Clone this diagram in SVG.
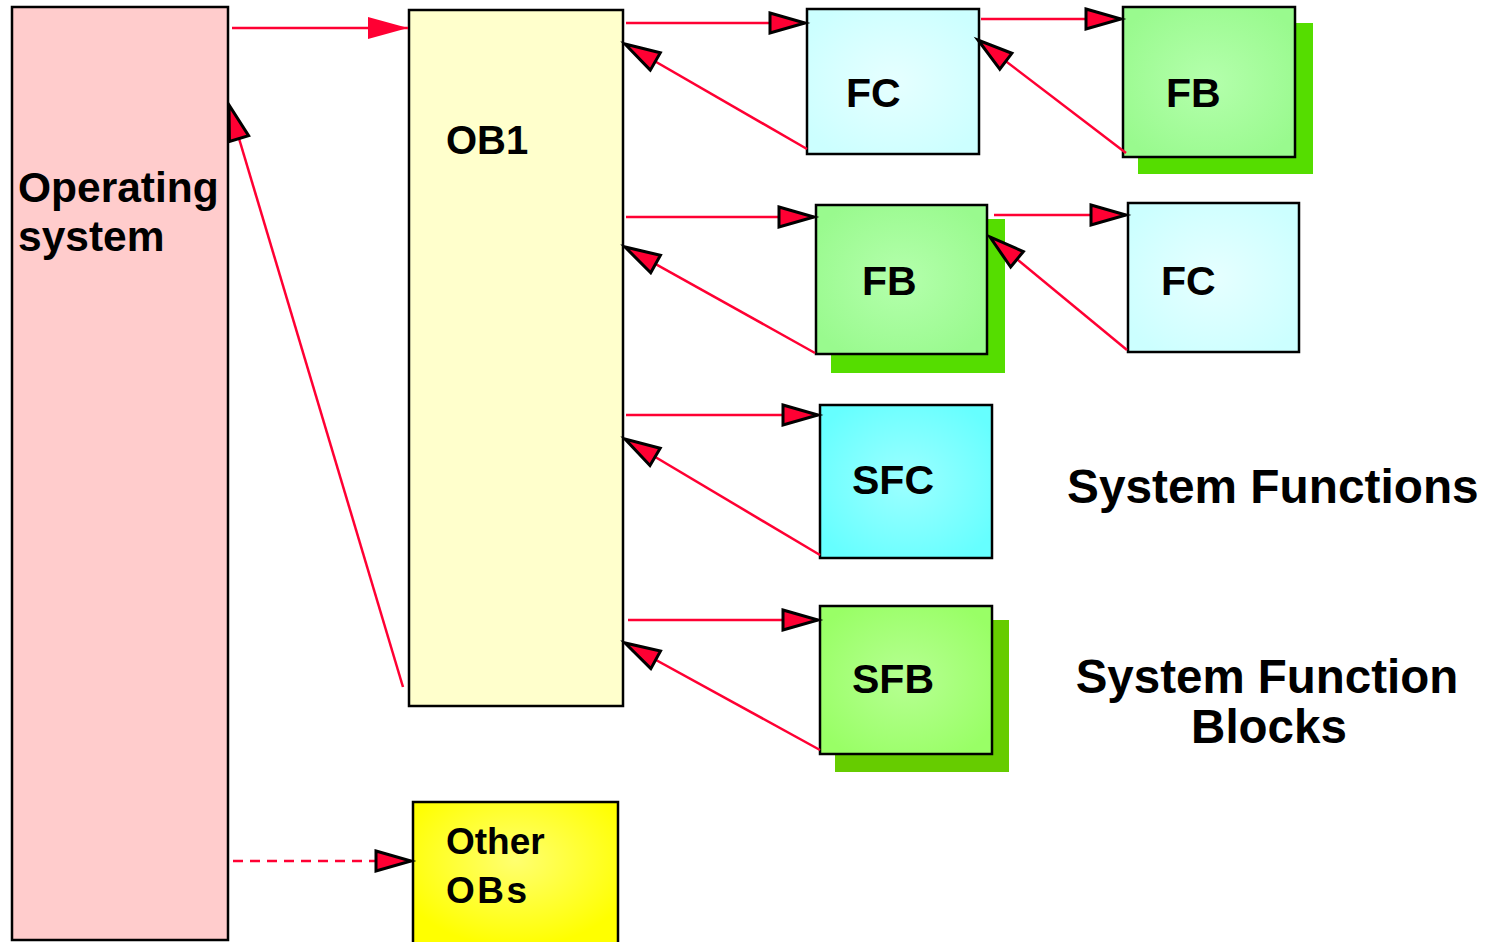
<svg xmlns="http://www.w3.org/2000/svg" width="1496" height="942" viewBox="0 0 1496 942">
<style>
.box{stroke:#000;stroke-width:2.5}
.lbl{font-family:"Liberation Sans",Arial,sans-serif;font-weight:bold;fill:#000}
.con{stroke:#ff0033;stroke-width:2.5;fill:none}
</style>
<defs>
<radialGradient id="gFC" cx="0.5" cy="0.5" r="0.6"><stop offset="0" stop-color="#e6ffff"/><stop offset="1" stop-color="#ccffff"/></radialGradient>
<radialGradient id="gFB" cx="0.5" cy="0.5" r="0.6"><stop offset="0" stop-color="#b4ffac"/><stop offset="1" stop-color="#99fa8e"/></radialGradient>
<radialGradient id="gSFC" cx="0.5" cy="0.5" r="0.6"><stop offset="0" stop-color="#9cffff"/><stop offset="1" stop-color="#66ffff"/></radialGradient>
<radialGradient id="gSFB" cx="0.5" cy="0.5" r="0.6"><stop offset="0" stop-color="#b6ff92"/><stop offset="1" stop-color="#99ff66"/></radialGradient>
<radialGradient id="gOB" cx="0.5" cy="0.4" r="0.6"><stop offset="0" stop-color="#ffff70"/><stop offset="1" stop-color="#ffff00"/></radialGradient>
<marker id="ah" markerUnits="userSpaceOnUse" markerWidth="46" markerHeight="30" viewBox="-5 -5 46 30" refX="35" refY="10" orient="auto">
<path d="M0,0 L35,10 L0,20 Z" fill="#ff0033" stroke="#000" stroke-width="3" stroke-linejoin="miter"/>
</marker>
<marker id="ahPlain" markerUnits="userSpaceOnUse" markerWidth="40" markerHeight="24" viewBox="0 0 36 20" refX="36" refY="10" orient="auto">
<path d="M0,0 L36,10 L0,20 Z" fill="#ff0033"/>
</marker>
</defs>

<g id="ob1">
<rect class="box" x="409" y="10" width="214" height="696" fill="#ffffcc"/>
<text class="lbl" font-size="40" x="446" y="154">OB1</text>
</g>

<g id="fc1">
<rect class="box" x="807" y="9" width="172" height="145" fill="url(#gFC)"/>
<text class="lbl" font-size="41" x="846" y="107">FC</text>
</g>

<g id="fb1">
<rect x="1138" y="23" width="175" height="151" fill="#55dd00"/>
<rect class="box" x="1123" y="7" width="172" height="150" fill="url(#gFB)"/>
<text class="lbl" font-size="41" x="1166" y="107">FB</text>
</g>

<g id="fb2">
<rect x="831" y="219" width="174" height="154" fill="#55dd00"/>
<rect class="box" x="816" y="205" width="171" height="149" fill="url(#gFB)"/>
<text class="lbl" font-size="41" x="862" y="295">FB</text>
</g>

<g id="fc2">
<rect class="box" x="1128" y="203" width="171" height="149" fill="url(#gFC)"/>
<text class="lbl" font-size="41" x="1161" y="295">FC</text>
</g>

<g id="sfc">
<rect class="box" x="820" y="405" width="172" height="153" fill="url(#gSFC)"/>
<text class="lbl" font-size="41" x="852" y="494">SFC</text>
</g>

<g id="sfb">
<rect x="835" y="620" width="174" height="152" fill="#66cc00"/>
<rect class="box" x="820" y="606" width="172" height="148" fill="url(#gSFB)"/>
<text class="lbl" font-size="41" x="852" y="693">SFB</text>
</g>

<g id="otherobs">
<rect class="box" x="413" y="802" width="205" height="145" fill="url(#gOB)"/>
<text class="lbl" font-size="37"><tspan x="446" y="854">Other</tspan><tspan x="446" y="903" letter-spacing="2.5">OBs</tspan></text>
</g>

<g id="connectors">
<line class="con" x1="232" y1="28" x2="408" y2="28" marker-end="url(#ahPlain)"/>
<line class="con" x1="403" y1="687" x2="229" y2="105" marker-end="url(#ah)"/>
<line class="con" x1="233" y1="861" x2="411" y2="861" stroke-dasharray="10,7" marker-end="url(#ah)"/>
<line class="con" x1="626" y1="23" x2="805" y2="23" marker-end="url(#ah)"/>
<line class="con" x1="807" y1="149" x2="625" y2="44" marker-end="url(#ah)"/>
<line class="con" x1="981" y1="19" x2="1121" y2="19" marker-end="url(#ah)"/>
<line class="con" x1="1126" y1="153" x2="978" y2="40" marker-end="url(#ah)"/>
<line class="con" x1="626" y1="217" x2="814" y2="217" marker-end="url(#ah)"/>
<line class="con" x1="815" y1="353" x2="625" y2="247" marker-end="url(#ah)"/>
<line class="con" x1="994" y1="215" x2="1126" y2="215" marker-end="url(#ah)"/>
<line class="con" x1="1127" y1="350" x2="990" y2="237" marker-end="url(#ah)"/>
<line class="con" x1="626" y1="415" x2="818" y2="415" marker-end="url(#ah)"/>
<line class="con" x1="820" y1="555" x2="625" y2="439" marker-end="url(#ah)"/>
<line class="con" x1="628" y1="620" x2="818" y2="620" marker-end="url(#ah)"/>
<line class="con" x1="820" y1="750" x2="625" y2="643" marker-end="url(#ah)"/>
</g>

<g id="os">
<rect class="box" x="12" y="7" width="216" height="933" fill="#ffcccc"/>
<text class="lbl" font-size="42.5"><tspan x="18" y="202">Operating</tspan><tspan x="18" y="251">system</tspan></text>
</g>

<g id="labels">
<text class="lbl" font-size="47.8" x="1067" y="503">System Functions</text>
<text class="lbl" font-size="47.5" text-anchor="middle"><tspan x="1267" y="693">System Function</tspan><tspan x="1269" y="743">Blocks</tspan></text>
</g>
</svg>
